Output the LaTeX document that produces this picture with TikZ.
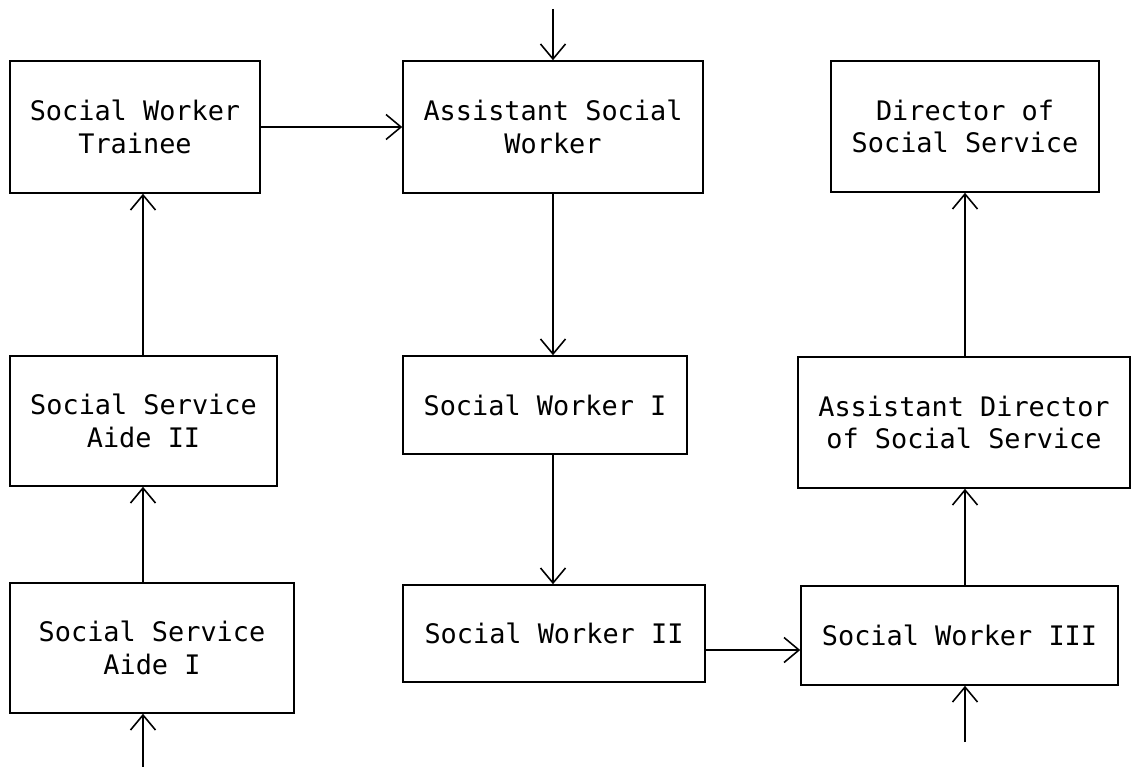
\documentclass[tikz,border=0pt]{standalone}
\usepackage{fontspec}
\setmonofont{DejaVu Sans Mono}
\usepackage{tikz}
\usetikzlibrary{arrows.meta}
\tikzstyle{job}=[draw=black,line width=0.9pt,inner sep=0pt,align=center,font=\ttfamily\fontsize{15.3}{18.7}\selectfont]
\tikzstyle{promo}=[draw=black,line width=0.9pt,-{Straight Barb[length=0.3cm,width=0.5cm,line width=0.9pt]}]

\begin{document}
\begin{tikzpicture}[x=0.02cm,y=-0.02cm]
		\useasboundingbox (0,0) rectangle (1132,767);
		\node[job,minimum width=5cm,minimum height=2.64cm] (trainee) at (135,127) {Social Worker\\Trainee};
		\node[job,minimum width=6cm,minimum height=2.64cm] (asw) at (553,127) {Assistant Social\\Worker};
		\node[job,minimum width=5.36cm,minimum height=2.62cm] (director) at (965,126.5) {Director of\\Social Service};
		\node[job,minimum width=5.34cm,minimum height=2.6cm] (aide2) at (143.5,421) {Social Service\\Aide II};
		\node[job,minimum width=5.68cm,minimum height=1.96cm] (sw1) at (545,405) {Social Worker I};
		\node[job,minimum width=6.64cm,minimum height=2.62cm] (asstdir) at (964,422.5) {Assistant Director\\of Social Service};
		\node[job,minimum width=5.68cm,minimum height=2.6cm] (aide1) at (152,648) {Social Service\\Aide I};
		\node[job,minimum width=6.04cm,minimum height=1.94cm] (sw2) at (554,633.5) {Social Worker II};
		\node[job,minimum width=6.34cm,minimum height=1.98cm] (sw3) at (959.5,635.5) {Social Worker III};
		\coordinate (intoasw) at (553,9);
		\coordinate (intosw3) at (965,742);
		\coordinate (intoaide1) at (143,767);
		\draw[promo] (intoasw) -- (asw.north);
		\draw[promo] (trainee.east) -- (asw.west);
		\draw[promo] (asw.south) -- (asw.south |- sw1.north);
		\draw[promo] (asw.south |- sw1.south) -- (asw.south |- sw2.north);
		\draw[promo] ([yshift=-0.33cm]sw2.east) -- ([yshift=-0.33cm]sw2.east -| sw3.west);
		\draw[promo] (intosw3) -- (intosw3 |- sw3.south);
		\draw[promo] (intosw3 |- sw3.north) -- (intosw3 |- asstdir.south);
		\draw[promo] (intosw3 |- asstdir.north) -- (intosw3 |- director.south);
		\draw[promo] (intoaide1) -- (intoaide1 |- aide1.south);
		\draw[promo] (intoaide1 |- aide1.north) -- (intoaide1 |- aide2.south);
		\draw[promo] (intoaide1 |- aide2.north) -- (intoaide1 |- trainee.south);
\end{tikzpicture}
\end{document}
